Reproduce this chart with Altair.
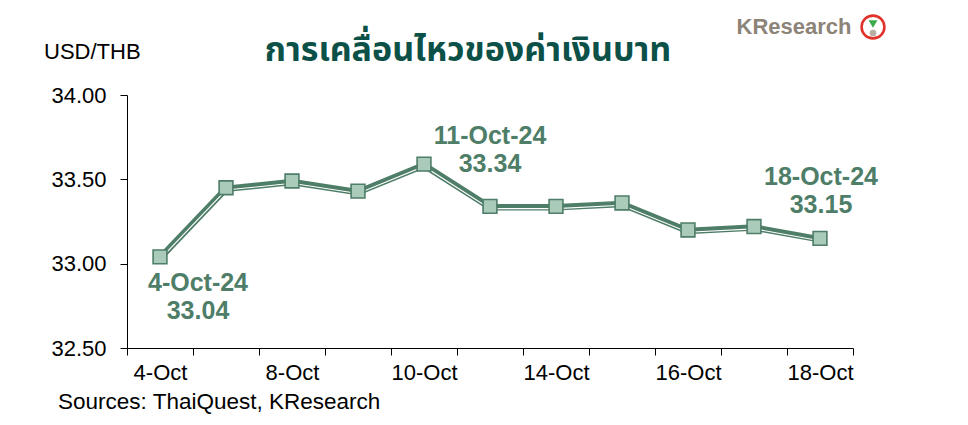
import altair as alt
import pandas as pd

dates = ["4-Oct", "7-Oct", "8-Oct", "9-Oct", "10-Oct", "11-Oct",
         "14-Oct", "15-Oct", "16-Oct", "17-Oct", "18-Oct"]
rates = [33.04, 33.45, 33.49, 33.43, 33.59, 33.34, 33.34, 33.36, 33.20, 33.22, 33.15]
shown_labels = ["4-Oct", "8-Oct", "10-Oct", "14-Oct", "16-Oct", "18-Oct"]
y_ticks = [32.5, 33.0, 33.5, 34.0]

ann_dates = ["4-Oct", "11-Oct", "18-Oct"]
ann_names = ["4-Oct-24", "11-Oct-24", "18-Oct-24"]
ann_values = [33.04, 33.34, 33.15]

title_text = "การเคลื่อนไหวของค่าเงินบาท"
unit_text = "USD/THB"
source_text = "Sources: ThaiQuest, KResearch"
logo_text = "KResearch"

df = pd.DataFrame({"date": dates, "rate": rates})
ann = pd.DataFrame({"date": ann_dates, "name": ann_names, "rate": ann_values,
                    "val": [f"{v:.2f}" for v in ann_values]})

GREEN = "#4E7D68"
FILL = "#AACBBA"
FONT = "Liberation Sans"

label_list = "[" + ",".join(f"'{s}'" for s in shown_labels) + "]"

x = alt.X("date:N", sort=dates, title=None,
          scale=alt.Scale(paddingInner=0, paddingOuter=0),
          axis=alt.Axis(tickBand="extent", labelAngle=0, labelFont=FONT, labelFontSize=22,
                        labelColor="black", domainColor="black", tickColor="black",
                        tickSize=7, labelPadding=7, labelOverlap=False,
                        labelExpr=f"indexof({label_list}, datum.value) >= 0 ? datum.label : ''"))
y = alt.Y("rate:Q", title=None,
          scale=alt.Scale(domain=[32.5, 34.0], zero=False, nice=False),
          axis=alt.Axis(values=y_ticks, format=".2f", grid=False, labelFont=FONT,
                        labelFontSize=22, labelColor="black", domainColor="black",
                        tickColor="black", tickSize=7, labelPadding=14))

base = alt.Chart(df)
line_dark = base.mark_line(color=GREEN, strokeWidth=6.5, yOffset=1).encode(x=x, y=y)
line_white = base.mark_line(color="white", strokeWidth=1.1, yOffset=2.3).encode(x=x, y=y)
pts = base.mark_point(shape="square", filled=True, fill=FILL, stroke=GREEN,
                      strokeWidth=1.6, size=190, opacity=1).encode(x=x, y=y)

abase = alt.Chart(ann)
txt_style = dict(font=FONT, fontSize=25, fontWeight="bold", color=GREEN, align="center",
                 baseline="middle")
offsets = {"4-Oct": (38, 26), "11-Oct": (0, -70), "18-Oct": (1, -61)}
ann_layers = []
for d, (dx, dy) in offsets.items():
    sub = abase.transform_filter(alt.datum.date == d)
    ann_layers.append(sub.mark_text(dx=dx, dy=dy, **txt_style).encode(x=x, y=y, text="name:N"))
    ann_layers.append(sub.mark_text(dx=dx, dy=dy + 28, **txt_style).encode(x=x, y=y, text="val:N"))

deco = alt.Chart(pd.DataFrame({"t": [title_text]}))
title = deco.mark_text(font="Noto Sans Thai", fontSize=34, fontWeight="bold", color="#0C5148",
                       align="center", baseline="middle").encode(
    x=alt.value(341), y=alt.value(-44), text=alt.value(title_text))
unit = deco.mark_text(font=FONT, fontSize=22, color="black", align="left", baseline="middle").encode(
    x=alt.value(-83), y=alt.value(-43), text=alt.value(unit_text))
source = deco.mark_text(font=FONT, fontSize=22.5, color="black", align="left", baseline="middle").encode(
    x=alt.value(-69), y=alt.value(307), text=alt.value(source_text))
logo = deco.mark_text(font=FONT, fontSize=22, fontWeight="bold", color="#8D8478", align="center",
                      baseline="middle").encode(
    x=alt.value(667), y=alt.value(-68), text=alt.value(logo_text))
logo_ring = deco.mark_point(shape="circle", filled=False, stroke="#E0332A", strokeWidth=2.6,
                            size=520, opacity=1).encode(x=alt.value(746), y=alt.value(-68))
logo_leaf = deco.mark_point(shape="triangle-down", filled=True, fill="#3BAA4A", size=80,
                            opacity=1).encode(x=alt.value(746), y=alt.value(-71))
logo_soil = deco.mark_point(shape="circle", filled=True, fill="#B8AFA6", size=45,
                            opacity=1).encode(x=alt.value(746), y=alt.value(-62))

chart = alt.layer(line_dark, line_white, pts, *ann_layers, title, unit, source,
                  logo, logo_ring, logo_soil, logo_leaf).properties(
    width=726, height=253,
    autosize=alt.AutoSizeParams(type="none"),
    padding={"left": 119, "top": 87, "right": 100, "bottom": 68},
).configure_view(strokeWidth=0, stroke=None)

chart.save("out.html", embed_options={"renderer": "svg", "actions": False})
